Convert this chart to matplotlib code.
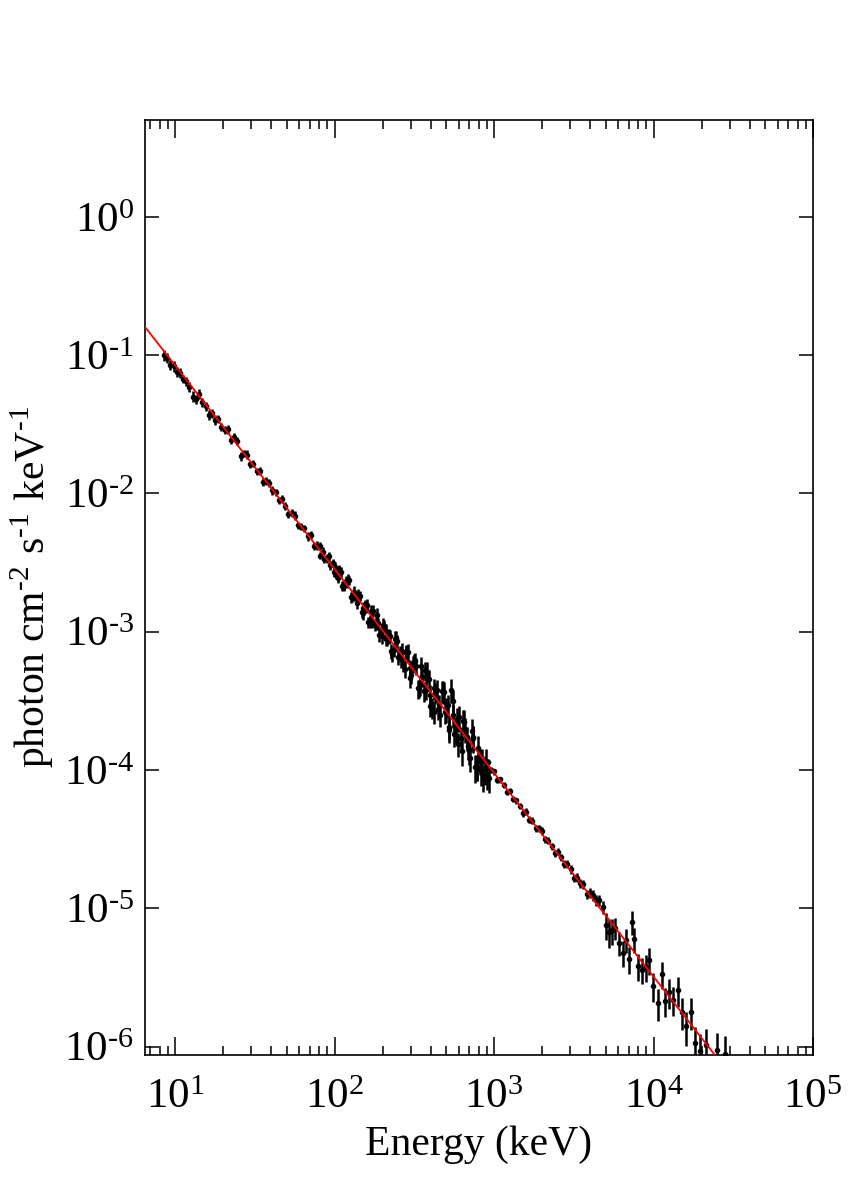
import numpy as np
import matplotlib.pyplot as plt
from matplotlib.ticker import LogLocator, NullLocator, NullFormatter, FuncFormatter

plt.rcParams['font.family'] = 'serif'
plt.rcParams['font.serif'] = ['Liberation Serif', 'DejaVu Serif']
plt.rcParams['mathtext.fontset'] = 'stix'
plt.rcParams['axes.unicode_minus'] = False

# --- NaI detector 1 (keV, photon cm^-2 s^-1 keV^-1) ---
nai1_energy = [8.51, 8.91, 9.33, 9.77, 10.2, 10.7, 11.2, 11.7, 12.3, 12.9,
               13.5, 14.1, 14.8, 15.5, 16.2, 17.0, 17.8, 18.6, 19.5,
               20.4, 21.4, 22.4, 23.4, 24.5, 25.7, 26.9, 28.2, 29.5, 30.9,
               32.4, 33.9, 35.5, 37.2, 38.9, 40.7, 42.7, 44.7, 46.8, 49.0,
               51.3, 53.7, 56.2, 58.9, 61.7, 64.6, 67.6, 70.8, 74.1, 77.6,
               81.3, 85.1, 89.1, 93.3, 97.7,
               102, 107, 112, 117, 123, 129, 135, 141, 148, 155,
               162, 170, 178, 186, 195, 204, 214, 224, 234, 245,
               257, 269, 282, 295, 309,
               324, 339, 355, 372, 389, 407, 427, 447, 468, 490,
               513, 537, 562, 589, 617, 646, 676, 708, 741, 776,
               813, 851, 891, 933]
nai1_flux = [0.100, 0.0955, 0.0851, 0.0832, 0.0759, 0.0741, 0.0676, 0.0646, 0.0589, 0.0501,
             0.0479, 0.0525, 0.0457, 0.0427, 0.0372, 0.0380, 0.0339, 0.0347, 0.0302,
             0.0288, 0.0290, 0.0245, 0.0257, 0.0240, 0.0186, 0.0195, 0.0191, 0.0162, 0.0164,
             0.0145, 0.0146, 0.0121, 0.0123, 0.0119, 0.0105, 0.0102, 0.00891, 0.00912, 0.00813,
             0.00708, 0.00724, 0.00692, 0.00589, 0.00575, 0.00562, 0.00490, 0.00501, 0.00417, 0.00420,
             0.00355, 0.00380, 0.00339, 0.00302, 0.00316,
             0.00257, 0.00282, 0.00214, 0.00234, 0.00236, 0.00178, 0.00182, 0.00183, 0.00138, 0.00155,
             0.00117, 0.00141, 0.00112, 0.00115, 0.00100, 0.00110, 0.000891, 0.000933, 0.000741, 0.000851,
             0.000708, 0.000589, 0.000710, 0.000550, 0.000589,
             0.000562, 0.000389, 0.000468, 0.000380, 0.000457, 0.000282, 0.000363, 0.000275, 0.000372, 0.000263,
             0.000295, 0.000380, 0.000182, 0.000234, 0.000170, 0.000224, 0.000172, 0.000123, 0.000170, 0.000105,
             0.000117, 0.0000891, 0.000117, 0.0000871]
nai1_relerr = [0.09, 0.08, 0.08, 0.09, 0.08, 0.08, 0.07, 0.08, 0.08, 0.09,
               0.08, 0.08, 0.07, 0.08, 0.08, 0.07, 0.08, 0.07, 0.07,
               0.07, 0.07, 0.07, 0.06, 0.07, 0.07, 0.06, 0.07, 0.06, 0.06,
               0.06, 0.07, 0.06, 0.06, 0.06, 0.07, 0.06, 0.06, 0.06, 0.06,
               0.06, 0.06, 0.07, 0.06, 0.06, 0.06, 0.07, 0.06, 0.06, 0.07,
               0.06, 0.07, 0.07, 0.07, 0.07,
               0.07, 0.08, 0.08, 0.08, 0.08, 0.08, 0.09, 0.08, 0.09, 0.09,
               0.09, 0.10, 0.09, 0.10, 0.10, 0.10, 0.11, 0.11, 0.11, 0.12,
               0.12, 0.13, 0.12, 0.13, 0.14,
               0.14, 0.15, 0.15, 0.16, 0.16, 0.17, 0.17, 0.17, 0.18, 0.18,
               0.19, 0.20, 0.19, 0.20, 0.20, 0.21, 0.20, 0.21, 0.22, 0.21,
               0.21, 0.22, 0.21, 0.22]

# --- NaI detector 2 (overlapping, 100-900 keV) ---
nai2_energy = [100, 105, 110, 115, 120, 126, 132, 138, 145, 151,
               158, 166, 174, 182, 191, 200, 209, 219, 229, 240,
               251, 263, 275, 288, 302, 316, 331, 347, 363, 380,
               398, 417, 437, 457, 479, 501, 525, 550, 575, 603,
               631, 661, 692, 724, 759, 794, 832, 871]
nai2_flux = [2.95e-3, 2.45e-3, 2.69e-3, 2.19e-3, 2.29e-3, 1.78e-3, 1.95e-3, 1.62e-3, 1.82e-3, 1.48e-3,
             1.51e-3, 1.20e-3, 1.41e-3, 1.15e-3, 9.55e-4, 1.12e-3, 8.91e-4, 9.33e-4, 6.92e-4, 8.91e-4,
             6.61e-4, 7.24e-4, 5.37e-4, 7.08e-4, 4.90e-4, 6.03e-4, 3.89e-4, 5.62e-4, 3.72e-4, 5.13e-4,
             3.47e-4, 2.63e-4, 3.80e-4, 2.51e-4, 3.72e-4, 2.75e-4, 1.95e-4, 3.16e-4, 1.95e-4, 2.40e-4,
             1.38e-4, 1.97e-4, 1.39e-4, 1.93e-4, 1.05e-4, 1.45e-4, 1.00e-4, 1.02e-4]
nai2_relerr = [0.08, 0.08, 0.09, 0.08, 0.09, 0.09, 0.09, 0.10, 0.09, 0.10,
               0.10, 0.11, 0.10, 0.11, 0.11, 0.12, 0.12, 0.12, 0.13, 0.13,
               0.13, 0.14, 0.14, 0.15, 0.15, 0.15, 0.16, 0.16, 0.17, 0.17,
               0.18, 0.18, 0.18, 0.19, 0.19, 0.20, 0.20, 0.20, 0.21, 0.21,
               0.22, 0.21, 0.22, 0.22, 0.23, 0.22, 0.23, 0.23]

# --- NaI detector 3 (overlapping, 80-900 keV) ---
nai3_energy = [80.4, 86.1, 92.3, 98.9, 106, 114, 122, 130, 140, 150,
               160, 172, 184, 197, 211, 226, 243, 260, 279, 299,
               320, 343, 367, 394, 422, 452, 484, 519, 556, 596,
               638, 684, 733, 785, 841, 902]
nai3_flux = [4.19e-3, 3.37e-3, 3.50e-3, 2.69e-3, 2.73e-3, 2.15e-3, 2.38e-3, 1.83e-3, 1.86e-3, 1.36e-3,
             1.55e-3, 1.19e-3, 1.32e-3, 9.29e-4, 1.01e-3, 7.24e-4, 9.02e-4, 6.32e-4, 7.03e-4, 4.60e-4,
             6.15e-4, 4.11e-4, 5.25e-4, 2.92e-4, 3.91e-4, 2.94e-4, 3.66e-4, 2.04e-4, 2.48e-4, 1.55e-4,
             2.28e-4, 1.49e-4, 1.73e-4, 1.06e-4, 1.17e-4, 9.25e-5]
nai3_relerr = [0.07, 0.07, 0.08, 0.08, 0.08, 0.09, 0.09, 0.09, 0.10, 0.10,
               0.11, 0.11, 0.12, 0.12, 0.12, 0.13, 0.13, 0.14, 0.14, 0.15,
               0.15, 0.16, 0.16, 0.17, 0.17, 0.18, 0.18, 0.19, 0.19, 0.20,
               0.20, 0.21, 0.21, 0.22, 0.22, 0.22]

# --- BGO detector ---
bgo_energy = [912, 955, 1000, 1047, 1096, 1148, 1202, 1259, 1318, 1380,
              1445, 1514, 1585, 1660, 1738, 1820, 1905, 1995, 2089, 2188,
              2291, 2399, 2512, 2630, 2754, 2884, 3020, 3162, 3311, 3467,
              3631, 3802, 3981, 4169, 4365, 4571, 4786, 5012, 5248, 5495,
              5730, 6100, 6460, 6710, 7030, 7350, 7570, 7940, 8410, 8950,
              9400, 9950, 10700, 11250, 11800, 12530, 13300, 14290, 15000, 15960,
              17060, 18160, 19540, 21330, 24830, 27990]
bgo_flux = [1.15e-4, 1.00e-4, 9.77e-5, 8.51e-5, 8.55e-5, 7.76e-5, 6.92e-5, 7.08e-5, 6.17e-5, 6.03e-5,
            5.50e-5, 4.90e-5, 5.01e-5, 4.37e-5, 4.30e-5, 3.80e-5, 3.78e-5, 3.63e-5, 3.16e-5, 3.09e-5,
            2.82e-5, 2.51e-5, 2.57e-5, 2.34e-5, 2.09e-5, 2.10e-5, 1.91e-5, 1.66e-5, 1.67e-5, 1.52e-5,
            1.49e-5, 1.26e-5, 1.29e-5, 1.25e-5, 1.15e-5, 1.14e-5, 1.02e-5, 7.59e-6, 6.76e-6, 6.92e-6,
            7.24e-6, 5.62e-6, 4.79e-6, 5.90e-6, 4.29e-6, 8.02e-6, 5.96e-6, 3.84e-6, 3.61e-6, 3.78e-6,
            4.23e-6, 2.75e-6, 2.07e-6, 3.33e-6, 2.14e-6, 2.47e-6, 2.18e-6, 2.56e-6, 1.77e-6, 1.40e-6,
            1.79e-6, 1.07e-6, 9.29e-7, 1.03e-6, 9.44e-7, 8.9e-7]
bgo_relerr = [0.05, 0.05, 0.05, 0.05, 0.05, 0.05, 0.05, 0.05, 0.05, 0.05,
              0.05, 0.06, 0.06, 0.06, 0.06, 0.06, 0.06, 0.06, 0.06, 0.06,
              0.06, 0.06, 0.06, 0.06, 0.07, 0.07, 0.07, 0.07, 0.07, 0.07,
              0.07, 0.08, 0.08, 0.09, 0.09, 0.09, 0.10, 0.22, 0.24, 0.22,
              0.18, 0.20, 0.22, 0.20, 0.22, 0.20, 0.20, 0.22, 0.22, 0.22,
              0.22, 0.24, 0.26, 0.22, 0.24, 0.24, 0.24, 0.24, 0.26, 0.28,
              0.26, 0.30, 0.32, 0.30, 0.32, 0.34]
bin_frac = 0.022

# fitted power law, N(E) = K * E^-index (E in keV)
pl_norm = 2.50
pl_index = 1.473

x_lim = (6.47, 1.0e5)
y_lim = (8.7e-7, 5.05)
y_decades = [1e0, 1e-1, 1e-2, 1e-3, 1e-4, 1e-5, 1e-6]

HYPH = '\u2010'


def pow10_label(v, pos):
    p = int(round(np.log10(v)))
    return '$\\mathdefault{10^{%s}}$' % str(p).replace('-', HYPH)


fig = plt.figure(figsize=(8.57, 12), dpi=100)
ax = fig.add_axes([0.1692, 0.1208, 0.7795, 0.7796])

series = [(nai1_energy, nai1_flux, nai1_relerr),
          (nai2_energy, nai2_flux, nai2_relerr),
          (nai3_energy, nai3_flux, nai3_relerr),
          (bgo_energy, bgo_flux, bgo_relerr)]
for e, f, r in series:
    e = np.array(e)
    f = np.array(f)
    ax.errorbar(e, f, xerr=e * bin_frac, yerr=f * np.array(r), fmt='o', ms=3.0,
                color='black', ecolor='black', elinewidth=1.8, capsize=0, zorder=2)

e_model = np.array(x_lim)
ax.plot(e_model, pl_norm * e_model ** (-pl_index), color='red', lw=1.3, zorder=3)

ax.set_xscale('log')
ax.set_yscale('log')
ax.set_xlim(*x_lim)
ax.set_ylim(*y_lim)

ax.xaxis.set_major_locator(LogLocator(base=10, numticks=20))
ax.xaxis.set_minor_locator(LogLocator(base=10, subs=np.arange(2, 10), numticks=20))
ax.xaxis.set_minor_formatter(NullFormatter())
ax.set_yticks(y_decades)
ax.yaxis.set_minor_locator(NullLocator())
ax.xaxis.set_major_formatter(FuncFormatter(pow10_label))
ax.yaxis.set_major_formatter(FuncFormatter(pow10_label))

ax.tick_params(which='both', direction='in', top=True, right=True, width=1.1, labelsize=31)
ax.tick_params(axis='x', which='major', length=13, pad=17)
ax.tick_params(axis='x', which='minor', length=6.5)
ax.tick_params(axis='y', which='major', length=10, pad=8)
for s in ax.spines.values():
    s.set_linewidth(1.2)

ax.set_xlabel('Energy (keV)', fontsize=30, labelpad=6)
ax.set_ylabel('photon cm$^{\\mathdefault{%s2}}$ s$^{\\mathdefault{%s1}}$ keV$^{\\mathdefault{%s1}}$'
              % (HYPH, HYPH, HYPH), fontsize=30, labelpad=6)

fig.savefig('out.png', dpi=100)
